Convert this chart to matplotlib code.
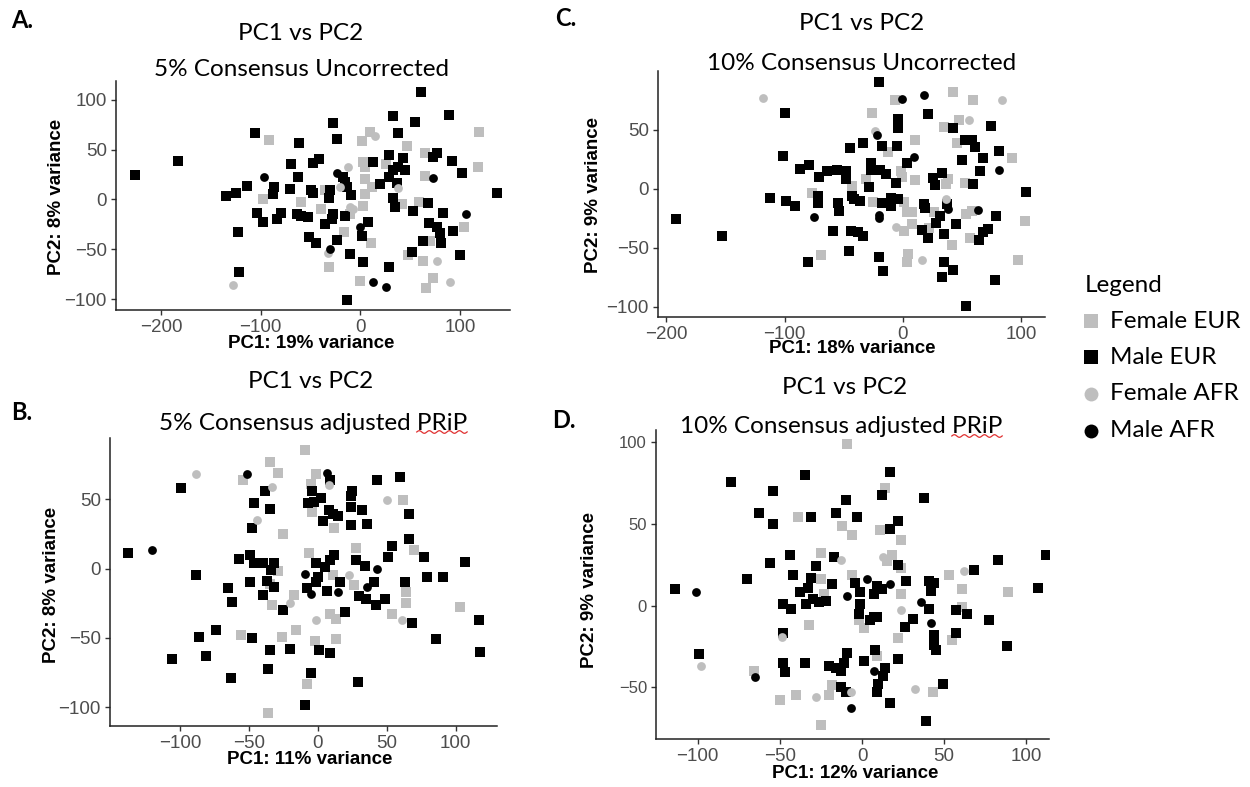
import numpy as np
import matplotlib.pyplot as plt
from matplotlib.lines import Line2D

W, H = 1250, 787
GREY = '#BEBEBE'
TITLE_FONT = ['Lato', 'DejaVu Sans']
AXIS_FONT = ['Liberation Sans', 'DejaVu Sans']

# ---- A: 5% consensus uncorrected ----------------------------------------
a_female_eur = [(-92, 60), (-98, 0), (-60, -3), (10, 68), (119, 68), (2, 59), (47, 54), (65, 47),
                (3, 38), (5, 33), (26, 36), (118, 33), (65, 24), (5, 21), (12, 13), (5, 6), (-35, 10),
                (3, -7), (42, -5), (59, -3), (-10, -15), (-39, -10), (104, -28), (-16, -33), (11, -44),
                (70, -42), (48, -56), (63, -62), (-31, -68), (0, -82), (73, -79), (66, -89)]
a_male_eur = [(-226, 25), (-183, 39), (-106, 67), (-62, 57), (-70, 36), (-63, 23), (-114, 14),
              (-125, 7), (-135, 4), (-87, 13), (-88, 6), (-71, 11), (-104, -14), (-98, -23), (-84, -20),
              (-80, -14), (-64, -15), (-60, -17), (-53, -18), (-123, -33), (-122, -73),
              (61, 108), (33, 84), (89, 85), (-27, 77), (55, 78), (38, 67), (-23, 61), (77, 47), (73, 43),
              (29, 45), (43, 42), (-41, 41), (-47, 37), (13, 38), (92, 39), (102, 27), (38, 33), (45, 30),
              (33, 30), (-17, 23), (29, 23), (20, 16), (-15, 18), (-13, 13), (37, 17), (-9, 5), (-30, 10),
              (-50, 10), (-47, 7), (137, 7), (-31, 1), (33, 1), (35, -8), (68, -4), (53, -12), (83, -14),
              (-15, -17), (-27, -15), (-28, -20), (-35, -25), (8, -23), (2, -37), (69, -24), (77, -28),
              (80, -34), (93, -32), (-52, -38), (-44, -44), (-23, -41), (63, -42), (81, -44), (-10, -55),
              (52, -53), (100, -56), (3, -63), (29, -68), (-13, -101)]
a_female_afr = [(-128, -86), (15, 64), (-12, 33), (38, 12), (-20, 13), (-10, -8), (-7, -10),
                (-32, -54), (77, -62), (90, -83)]
a_male_afr = [(-97, 23), (-23, 27), (73, 22), (106, -15), (0, -28), (-30, -50), (13, -83), (26, -88)]

# ---- B: 5% consensus adjusted PRiP --------------------------------------
b_female_eur = [(-54, 64), (-35, 77), (-29, 69), (-25, 25), (-29, -2), (-35, -11), (-33, -26),
                (-17, -19), (-16, -44), (-26, -49), (-56, -48), (-36, -104), (-9, 85), (-1, 68),
                (-5, 61), (-4, 41), (12, 29), (62, 49), (70, 13), (28, 15), (-6, 11), (11, -5),
                (26, -12), (64, -17), (64, -25), (103, -28), (9, -33), (13, -36), (54, -33),
                (-2, -52), (13, -51), (-8, -83)]
b_male_eur = [(-38, 56), (-99, 58), (-46, 47), (-35, 43), (-48, 29), (-138, 11), (-57, 7), (-49, 10),
              (-46, 4), (-40, 4), (-32, 4), (-34, -1), (-88, -5), (-49, -10), (-37, -9), (-32, -13),
              (-65, -14), (-40, -19), (-62, -24), (-25, -30), (-74, -44), (-86, -49), (-48, -50),
              (-20, -58), (-35, -59), (-106, -65), (-81, -63), (-36, -72), (-63, -79),
              (9, 64), (-4, 56), (-7, 47), (2, 51), (-3, 48), (8, 42), (11, 39), (15, 38), (4, 34),
              (25, 56), (24, 52), (24, 44), (32, 42), (24, 31), (36, 32), (43, 64), (60, 66), (66, 39),
              (66, 21), (54, 16), (51, 8), (77, 8), (107, 5), (79, -6), (91, -6), (28, 6), (34, 2),
              (-1, 4), (5, 1), (9, 6), (12, 10), (0, -6), (-1, -10), (-8, -14), (16, -10), (7, -16),
              (41, -10), (63, -10), (30, -20), (35, -22), (42, -26), (49, -22), (20, -31), (68, -39),
              (117, -37), (1, -59), (9, -61), (86, -51), (118, -60), (-5, -75), (29, -82), (-9, -98)]
b_female_afr = [(-88, 68), (-33, 59), (-44, 35), (-20, -25), (8, 60), (50, 49), (23, -5), (-1, -37),
                (61, -37)]
b_male_afr = [(-51, 68), (-120, 13), (7, 69), (43, 0), (-9, -4), (-5, -18), (15, -17), (36, -13)]

# ---- C: 10% consensus uncorrected ---------------------------------------
c_female_eur = [(-77, -4), (-69, -56), (42, 82), (-7, 75), (59, 75), (-26, 64), (47, 58), (35, 52),
                (10, 41), (46, 39), (92, 26), (-13, 31), (-1, 10), (-2, 15), (10, 7), (38, 8), (36, 4),
                (52, 5), (-31, 8), (-43, 2), (-25, -11), (1, -11), (3, -20), (8, -20), (26, -20),
                (53, -21), (58, -19), (103, -27), (22, -33), (1, -36), (8, -30), (57, -42), (41, -48),
                (4, -55), (3, -62), (97, -60)]
c_male_eur = [(-100, 64), (-101, 28), (-87, 17), (-79, 20), (-71, 10), (-64, 15), (-112, -8),
              (-72, -6), (-99, -10), (-91, -15), (-72, -12), (-192, -26), (-153, -40), (-80, -62),
              (-20, 90), (21, 63), (-4, 59), (-4, 51), (42, 51), (74, 53), (52, 41), (58, 41), (61, 35),
              (81, 32), (68, 26), (50, 24), (-45, 34), (-34, 39), (-18, 36), (-5, 36), (3, 22),
              (-27, 22), (-27, 16), (-19, 16), (-14, 12), (-6, 5), (65, 15), (25, 9), (33, 13), (27, 3),
              (59, 4), (-56, 16), (-48, 15), (-48, 8), (-29, 1), (104, -3), (-43, -6), (-41, -9),
              (-36, -10), (-55, -12), (-54, -19), (-18, -12), (-10, -8), (-4, -9), (-10, -15), (18, -13),
              (19, -16), (37, -13), (31, -23), (28, -29), (79, -23), (45, -30), (16, -35), (21, -42),
              (35, -38), (-59, -36), (-44, -36), (-38, -37), (-34, -40), (68, -37), (72, -34),
              (64, -43), (-46, -53), (-20, -58), (-17, -70), (35, -62), (42, -69), (33, -75), (78, -77),
              (53, -99)]
c_female_afr = [(-118, 77), (84, 75), (56, 58), (-24, 49), (36, -9), (-6, -32), (16, -60)]
c_male_afr = [(-75, -24), (-1, 76), (18, 79), (-22, 45), (9, 27), (81, 16), (-20, -22), (-20, -25),
              (38, -17), (63, -18)]

# ---- D: 10% consensus adjusted PRiP -------------------------------------
d_female_eur = [(-39, 54), (-25, 32), (-25, 16), (-23, 7), (-32, -12), (-66, -40), (-50, -58),
                (-40, -55), (-20, -55), (-25, -73), (-9, 99), (14, 72), (-12, 49), (-6, 43), (11, 46),
                (24, 40), (18, 31), (15, 27), (24, 23), (53, 19), (-6, 19), (61, 10), (89, 8), (24, 7),
                (61, -1), (-2, -9), (1, -14), (22, -20), (55, -21), (9, -31), (-18, -49), (43, -53)]
d_male_eur = [(-35, 80), (-80, 76), (-54, 70), (-63, 57), (-54, 50), (-31, 54), (-44, 31), (-56, 26),
              (-70, 16), (-42, 19), (-28, 24), (-31, 17), (-33, 11), (-38, 8), (-34, 1), (-30, 4),
              (-26, 2), (-22, 3), (-114, 10), (-48, 1), (-43, -2), (-48, -17), (-99, -30), (-48, -35),
              (-47, -41), (-35, -35), (17, 82), (12, 68), (-10, 65), (38, 66), (-16, 57), (-3, 54),
              (22, 52), (17, 47), (-17, 30), (22, 25), (83, 28), (112, 31), (68, 22), (-18, 13), (-4, 14),
              (9, 12), (12, 10), (27, 15), (41, 15), (44, 14), (42, 9), (107, 11), (-1, 8), (7, 7),
              (-1, 1), (41, -2), (57, -3), (64, -5), (77, -9), (-2, -5), (5, -9), (7, -7), (9, -7),
              (31, -8), (26, -13), (44, -18), (57, -17), (44, -24), (45, -27), (88, -25), (-9, -29),
              (8, -27), (22, -33), (1, -34), (-11, -35), (-20, -37), (-16, -38), (-13, -40), (14, -38),
              (13, -43), (10, -48), (9, -53), (-13, -50), (-10, -53), (49, -48), (17, -60), (39, -71)]
d_female_afr = [(-49, -19), (-98, -37), (-28, -56), (-13, 28), (13, 30), (62, 21), (24, -3), (-7, -53),
                (32, -51)]
d_male_afr = [(-101, 8), (-65, -44), (3, 16), (17, 13), (-9, 6), (36, 2), (42, -11), (7, -40), (-7, -63)]

GROUPS = ['Female EUR', 'Male EUR', 'Female AFR', 'Male AFR']
STYLE = {'Female EUR': ('s', GREY, 46), 'Male EUR': ('s', 'black', 46),
         'Female AFR': ('o', GREY, 40), 'Male AFR': ('o', 'black', 40)}

fig = plt.figure(figsize=(W / 100, H / 100), dpi=100)


def panel(box, xlim, ylim, xticks, yticks, data, ytick_size=13.5):
    l, t, r, b = box
    ax = fig.add_axes([l / W, 1 - b / H, (r - l) / W, (b - t) / H])
    for name, pts in zip(GROUPS, data):
        marker, color, size = STYLE[name]
        pts = np.array(pts)
        ax.scatter(pts[:, 0], pts[:, 1], marker=marker, c=color, s=size, linewidths=0, zorder=3)
    ax.set_xlim(*xlim)
    ax.set_ylim(*ylim)
    ax.set_xticks(xticks)
    ax.set_yticks(yticks)
    for side in ['top', 'right']:
        ax.spines[side].set_visible(False)
    for side in ['left', 'bottom']:
        ax.spines[side].set_linewidth(1.1)
        ax.spines[side].set_color('#222222')
    ax.tick_params(length=3.5, width=1, color='#333333', labelcolor='#4D4D4D', pad=3)
    ax.tick_params(axis='x', labelsize=13.5)
    ax.tick_params(axis='y', labelsize=ytick_size)
    for lab in ax.get_xticklabels() + ax.get_yticklabels():
        lab.set_family(AXIS_FONT)
    return ax


def ftext(x, y, s, **kw):
    return fig.text(x / W, 1 - y / H, s, ha='center', va='center', **kw)


def squiggle(txt, word, size):
    # red spell-check underline below the last word of a title
    r = fig.canvas.get_renderer()
    bb = txt.get_window_extent(r)
    probe = fig.text(0, 0, word, fontsize=size, family=TITLE_FONT)
    wb = probe.get_window_extent(r).width
    probe.remove()
    xs = np.linspace(bb.x1 - wb, bb.x1, 80)
    ys = bb.y0 + 1.5 + 1.3 * np.sin((xs - xs[0]) / 1.6)
    fig.add_artist(Line2D(xs / W, ys / H, color='#E03030', lw=0.9, transform=fig.transFigure))


panel((116, 81, 510, 310), (-245, 150), (-111, 119), [-200, -100, 0, 100], [-100, -50, 0, 50, 100],
      [a_female_eur, a_male_eur, a_female_afr, a_male_afr])
panel((658, 71, 1045, 317), (-207, 120), (-108.5, 99.5), [-200, -100, 0, 100], [-100, -50, 0, 50],
      [c_female_eur, c_male_eur, c_female_afr, c_male_afr])
panel((110, 438, 497, 726), (-150.7, 130), (-113.4, 94), [-100, -50, 0, 50, 100], [-100, -50, 0, 50],
      [b_female_eur, b_male_eur, b_female_afr, b_male_afr])
panel((656, 430, 1049, 739), (-125.4, 113.8), (-81.8, 107.6), [-100, -50, 0, 50, 100], [-50, 0, 50, 100],
      [d_female_eur, d_male_eur, d_female_afr, d_male_afr], ytick_size=12)

TS = 17.5
tk = dict(fontsize=TS, family=TITLE_FONT)
ftext(301, 33, 'PC1 vs PC2', **tk)
ftext(301, 70, '5% Consensus Uncorrected', **tk)
ftext(862, 24, 'PC1 vs PC2', **tk)
ftext(862, 63, '10% Consensus Uncorrected', **tk)
ftext(311, 381, 'PC1 vs PC2', **tk)
tb = ftext(313, 423, '5% Consensus adjusted PRiP', **tk)
ftext(845, 388, 'PC1 vs PC2', **tk)
td = ftext(841, 427, '10% Consensus adjusted PRiP', **tk)
squiggle(tb, 'PRiP', TS)
squiggle(td, 'PRiP', TS)

pk = dict(fontsize=17, family=TITLE_FONT, fontweight='bold')
ftext(22, 21, 'A.', **pk)
ftext(22, 412, 'B.', **pk)
ftext(566, 19, 'C.', **pk)
ftext(564, 421, 'D.', **pk)

ak = dict(fontsize=13.5, family=AXIS_FONT, fontweight='bold')
ftext(311, 344, 'PC1: 19% variance', **ak)
ftext(852, 349, 'PC1: 18% variance', **ak)
ftext(310, 759, 'PC1: 11% variance', **ak)
ftext(855, 774, 'PC1: 12% variance', **ak)
ftext(57, 197, 'PC2: 8% variance', rotation=90, **ak)
ftext(593, 195, 'PC2: 9% variance', rotation=90, **ak)
ftext(52, 585, 'PC2: 8% variance', rotation=90, **ak)
ftext(590, 590, 'PC2: 9% variance', rotation=90, **ak)

# legend
ftext(1124, 285, 'Legend', fontsize=TS, family=TITLE_FONT)
for i, name in enumerate(GROUPS):
    y = 321 + i * 36.5
    marker, color, _ = STYLE[name]
    fig.add_artist(Line2D([1091 / W], [1 - y / H], marker=marker, color=color, linestyle='none',
                          markersize=10.5 if marker == 's' else 10, markeredgewidth=0,
                          transform=fig.transFigure))
    fig.text(1110 / W, 1 - y / H, name, ha='left', va='center', fontsize=TS, family=TITLE_FONT)

fig.savefig('out.png', dpi=100, facecolor='white')
